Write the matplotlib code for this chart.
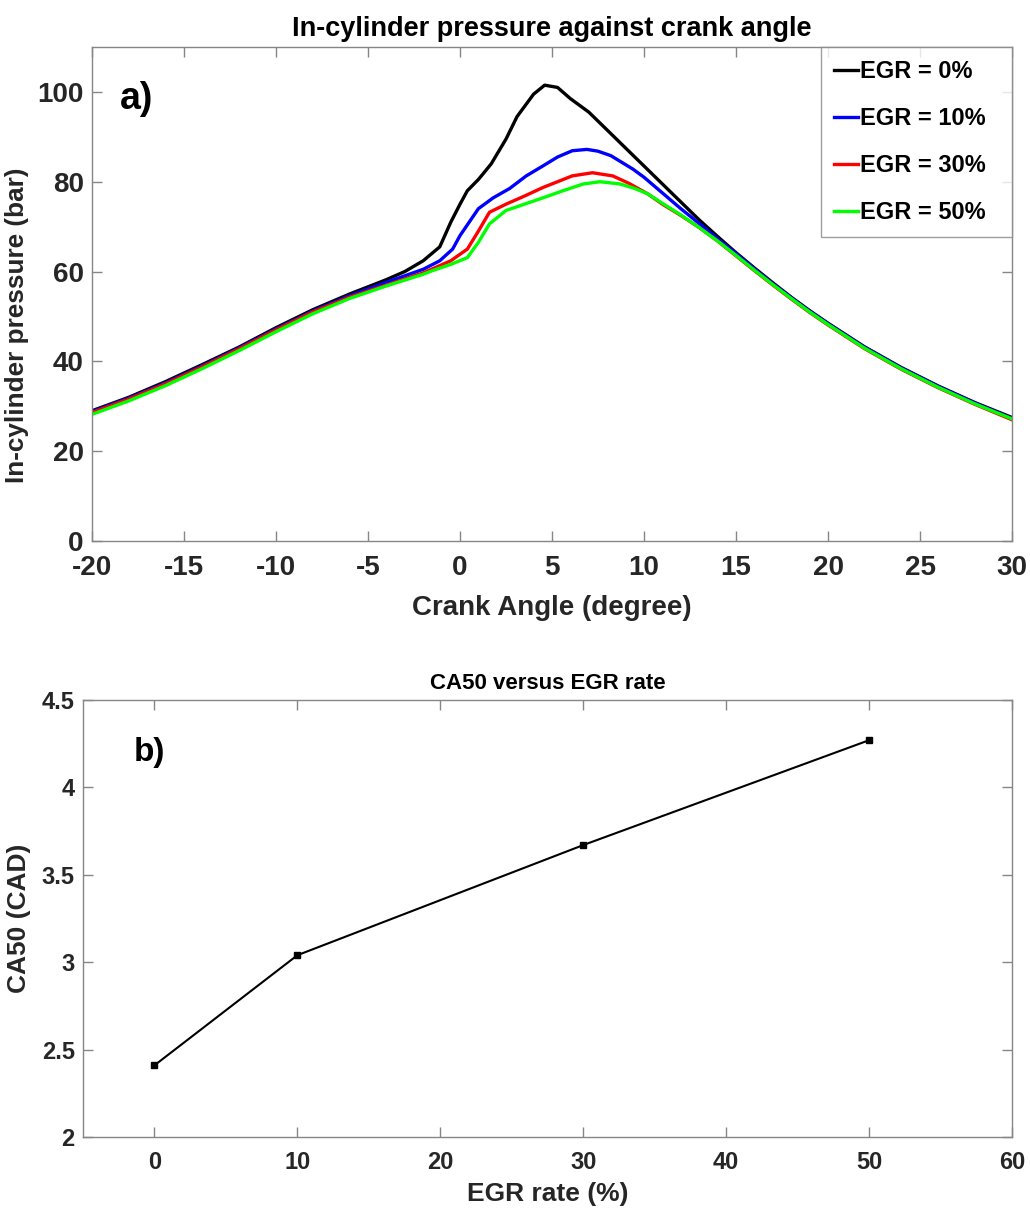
import matplotlib
matplotlib.use('Agg')
import matplotlib.pyplot as plt

# Crank angle (degree) and pressure (bar) for each EGR rate
ca_0 = [-20, -18, -16, -14, -12, -10, -8, -6, -4, -3, -2, -1.1, -0.5, 0, 0.4, 1.0, 1.7, 2.5, 3.1,
        4.0, 4.6, 5.3, 6.0, 7.0, 8.0, 9.0, 10, 11, 12, 13, 14, 15, 16, 17, 18, 19, 20, 22, 24,
        26, 28, 30]
p_0 = [29.0, 32.0, 35.5, 39.3, 43.2, 47.5, 51.5, 55.0, 58.2, 60.0, 62.4, 65.5, 71.0, 75.0, 78.0,
       80.5, 84.0, 89.5, 94.5, 99.5, 101.5, 101.0, 98.5, 95.5, 91.5, 87.5, 83.5, 79.5, 75.5,
       71.5, 67.8, 64.2, 60.8, 57.5, 54.3, 51.3, 48.5, 43.2, 38.6, 34.5, 30.8, 27.5]

ca_10 = [-20, -18, -16, -14, -12, -10, -8, -6, -4, -2, -1.1, -0.4, 0, 0.5, 1.0, 1.8, 2.7, 3.6,
         4.5, 5.3, 6.1, 6.9, 7.5, 8.2, 9.4, 10, 11, 12, 13, 14, 15, 16, 17, 18, 19, 20, 22, 24,
         26, 28, 30]
p_10 = [28.8, 31.8, 35.2, 39.0, 43.0, 47.2, 51.2, 54.6, 57.6, 60.5, 62.4, 65.0, 68.0, 71.0, 74.0,
        76.4, 78.5, 81.3, 83.5, 85.5, 86.9, 87.2, 86.8, 85.8, 82.8, 81.0, 77.5, 74.0, 70.7,
        67.3, 64.0, 60.6, 57.3, 54.2, 51.2, 48.4, 43.1, 38.5, 34.4, 30.7, 27.3]

ca_30 = [-20, -18, -16, -14, -12, -10, -8, -6, -4, -2, -0.5, 0.4, 1.0, 1.6, 2.5, 3.5, 4.5, 5.3,
         6.1, 7.2, 8.3, 9.2, 10.2, 11, 12, 13, 14, 15, 16, 17, 18, 19, 20, 22, 24, 26, 28, 30]
p_30 = [28.6, 31.6, 35.0, 38.8, 42.8, 47.0, 51.0, 54.3, 57.0, 59.7, 62.4, 65.0, 69.0, 73.2, 75.0,
        76.8, 78.7, 80.0, 81.3, 82.0, 81.3, 79.6, 77.3, 75.0, 72.5, 69.8, 66.8, 63.5, 60.2,
        57.0, 53.9, 50.9, 48.1, 42.8, 38.2, 34.1, 30.4, 27.0]

ca_50 = [-20, -18, -16, -14, -12, -10, -8, -6, -4, -2, -1.5, -0.5, 0.4, 1.0, 1.6, 2.5, 3.5, 4.5,
         5.6, 6.7, 7.6, 8.7, 9.5, 10.2, 11, 12, 13, 14, 15, 16, 17, 18, 19, 20, 22, 24, 26, 28,
         30]
p_50 = [28.2, 31.2, 34.6, 38.4, 42.4, 46.6, 50.6, 54.0, 56.8, 59.4, 60.2, 61.6, 63.1, 66.5, 70.6,
        73.6, 75.0, 76.4, 78.0, 79.5, 80.0, 79.5, 78.5, 77.3, 75.2, 72.6, 69.8, 66.8, 63.6,
        60.3, 57.1, 54.0, 51.0, 48.2, 42.9, 38.3, 34.2, 30.5, 27.2]

egr_labels = ['EGR = 0%', 'EGR = 10%', 'EGR = 30%', 'EGR = 50%']
egr_colors = ['#000000', '#0000ff', '#ff0000', '#00ff00']

# CA50 versus EGR rate
egr_rate = [0, 10, 30, 50]
ca50 = [2.41, 3.04, 3.67, 4.27]

plt.rcParams['font.family'] = ['Liberation Sans', 'DejaVu Sans']
plt.rcParams['font.weight'] = 'bold'
plt.rcParams['axes.unicode_minus'] = False

texto = '#262626'
eixo = '#868686'

fig = plt.figure(figsize=(10.3, 12.1), dpi=100)

# ---------- a) pressure ----------
ax1 = fig.add_axes([92 / 1030, 1 - 541 / 1210, 920 / 1030, 494 / 1210])
for ca, p, lab, cor in zip([ca_0, ca_10, ca_30, ca_50], [p_0, p_10, p_30, p_50], egr_labels, egr_colors):
    ax1.plot(ca, p, color=cor, linewidth=2.4, label=lab + '  ')  # espaço extra à direita, como no original
ax1.set_xlim(-20, 30)
ax1.set_ylim(0, 110)
ax1.set_xticks(range(-20, 31, 5))
ax1.set_yticks(range(0, 101, 20))
ax1.set_title('In-cylinder pressure against crank angle', fontsize=19.5, fontweight='bold',
              color='black', pad=8)
ax1.set_xlabel('Crank Angle (degree)', fontsize=20, fontweight='bold', color=texto, labelpad=10)
ax1.set_ylabel('In-cylinder pressure (bar)', fontsize=18.8, fontweight='bold', color=texto)
ax1.yaxis.set_label_coords(-0.068, 0.437)
ax1.text(0.03, 0.895, 'a)', transform=ax1.transAxes, fontsize=27, fontweight='bold',
         ha='left', va='center')
leg = ax1.legend(loc='upper right', fontsize=17, handlelength=1.0, handletextpad=0.1,
                 labelspacing=1.02, borderpad=0.55, borderaxespad=0, frameon=True,
                 fancybox=False)
leg.get_frame().set_edgecolor(eixo)
leg.get_frame().set_linewidth(1)
for t in leg.get_texts():
    t.set_fontweight('bold')

# ---------- b) CA50 ----------
ax2 = fig.add_axes([83 / 1030, 1 - 1137 / 1210, 929 / 1030, 437 / 1210])
ax2.plot(egr_rate, ca50, color='black', linewidth=1.5, marker='s', markersize=4)
ax2.set_xlim(-5, 60)
ax2.set_ylim(2, 4.5)
ax2.set_xticks(range(0, 61, 10))
ax2.set_yticks([2, 2.5, 3, 3.5, 4, 4.5])
ax2.set_yticklabels(['2', '2.5', '3', '3.5', '4', '4.5'])
ax2.set_title('CA50 versus EGR rate', fontsize=16, fontweight='bold', color='black', pad=8)
ax2.set_xlabel('EGR rate (%)', fontsize=19, fontweight='bold', color=texto, labelpad=6)
ax2.set_ylabel('CA50 (CAD)', fontsize=19, fontweight='bold', color=texto, labelpad=8)
ax2.text(0.055, 0.88, 'b)', transform=ax2.transAxes, fontsize=24, fontweight='bold',
         ha='left', va='center')

for ax, tam, pad in [(ax1, 20, 10), (ax2, 17, 10)]:
    for spine in ax.spines.values():
        spine.set_color(eixo)
        spine.set_linewidth(1)
    ax.tick_params(direction='in', length=7, width=1, color=eixo, labelcolor=texto,
                   labelsize=tam, top=True, right=True, pad=pad)
    ax.tick_params(axis='y', pad=6)
    for lab in ax.get_xticklabels() + ax.get_yticklabels():
        lab.set_fontweight('bold')

fig.savefig('out.png', dpi=100)
